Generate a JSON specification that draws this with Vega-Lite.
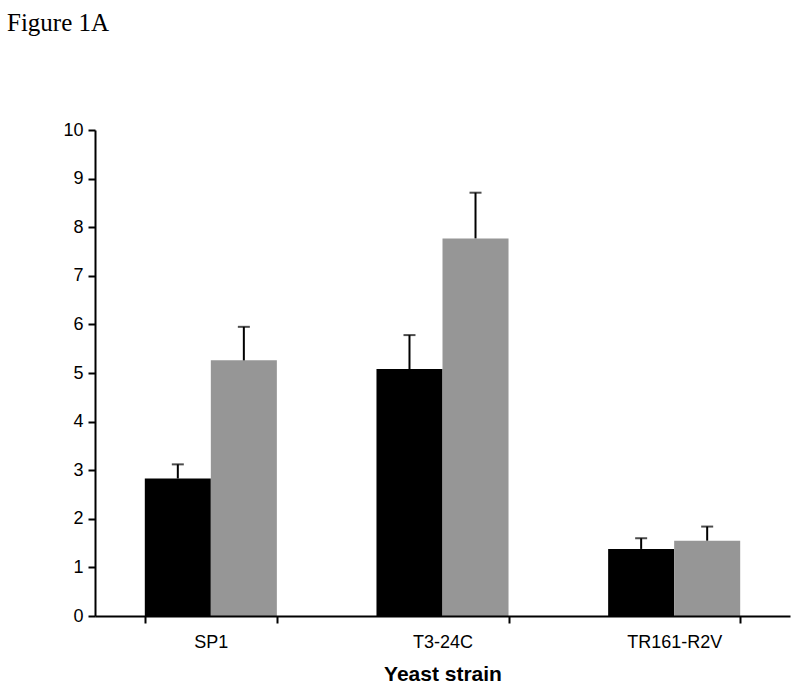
{
  "$schema": "https://vega.github.io/schema/vega-lite/v6.json",
  "width": 695,
  "height": 486,
  "autosize": {"type": "none"},
  "padding": {"left": 95, "top": 130, "right": 10, "bottom": 78},
  "background": "white",
  "title": {
    "text": "Figure 1A",
    "anchor": "start",
    "frame": "group",
    "font": "Liberation Serif",
    "fontSize": 25,
    "fontWeight": "normal",
    "color": "black",
    "dx": -88,
    "offset": 85
  },
  "config": {"view": {"stroke": null}},
  "data": {
    "values": [
      {"strain": "SP1", "group": "series 1", "value": 2.83, "upper": 3.12},
      {"strain": "SP1", "group": "series 2", "value": 5.26, "upper": 5.95},
      {"strain": "T3-24C", "group": "series 1", "value": 5.08, "upper": 5.78},
      {"strain": "T3-24C", "group": "series 2", "value": 7.77, "upper": 8.71},
      {"strain": "TR161-R2V", "group": "series 1", "value": 1.38, "upper": 1.6},
      {"strain": "TR161-R2V", "group": "series 2", "value": 1.55, "upper": 1.84}
    ]
  },
  "encoding": {
    "x": {
      "field": "strain",
      "type": "nominal",
      "sort": null,
      "scale": {"paddingInner": 0.43, "paddingOuter": 0.215},
      "axis": {
        "labelAngle": 0,
        "labelFont": "Liberation Sans",
        "labelFontSize": 18,
        "labelColor": "black",
        "labelPadding": 10,
        "tickBand": "extent",
        "tickColor": "black",
        "tickWidth": 2,
        "tickSize": 7,
        "domainColor": "black",
        "domainWidth": 2,
        "title": "Yeast strain",
        "titleFont": "Liberation Sans",
        "titleFontSize": 21,
        "titleFontWeight": "bold",
        "titleColor": "black",
        "titlePadding": 12,
        "zindex": 1
      }
    },
    "xOffset": {"field": "group", "type": "nominal", "scale": {"paddingInner": 0, "paddingOuter": 0}},
    "y": {
      "field": "value",
      "type": "quantitative",
      "scale": {"domain": [0, 10], "nice": false},
      "axis": {
        "values": [0, 1, 2, 3, 4, 5, 6, 7, 8, 9, 10],
        "grid": false,
        "title": null,
        "labelFont": "Liberation Sans",
        "labelFontSize": 18,
        "labelColor": "black",
        "labelPadding": 5,
        "tickColor": "black",
        "tickWidth": 2,
        "tickSize": 7,
        "domainColor": "black",
        "domainWidth": 2,
        "zindex": 1
      }
    }
  },
  "layer": [
    {
      "mark": {"type": "bar"},
      "encoding": {
        "color": {
          "field": "group",
          "type": "nominal",
          "scale": {"domain": ["series 1", "series 2"], "range": ["#000000", "#969696"]},
          "legend": null
        }
      }
    },
    {
      "mark": {"type": "rule", "color": "black", "strokeWidth": 2},
      "encoding": {
        "y2": {"field": "upper"}
      }
    },
    {
      "mark": {"type": "tick", "orient": "horizontal", "color": "black", "thickness": 2, "size": 12},
      "encoding": {
        "y": {"field": "upper", "type": "quantitative"}
      }
    }
  ]
}
